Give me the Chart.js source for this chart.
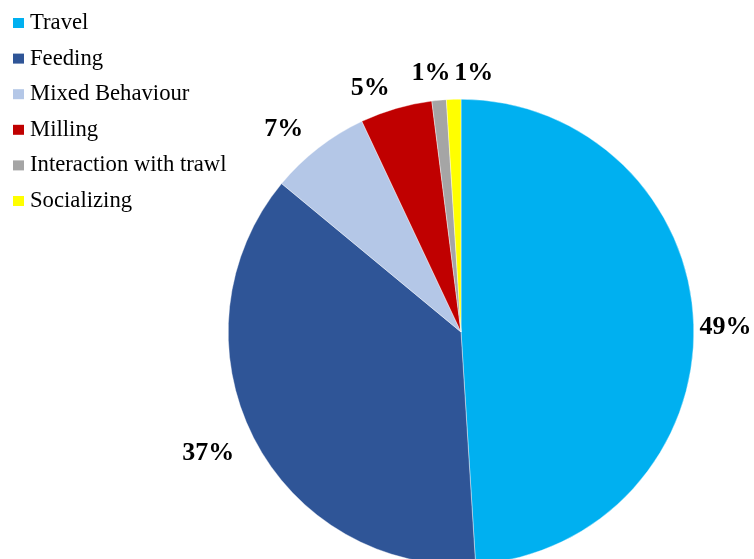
<!DOCTYPE html>
<html>
<head>
<meta charset="utf-8">
<script src="https://cdn.jsdelivr.net/npm/chart.js@4/dist/chart.umd.min.js"></script>
<style>
  html, body { margin: 0; padding: 0; background: #ffffff; overflow: hidden; }
  #wrap { position: absolute; left: 0; top: 0; width: 754px; height: 600px; }
</style>
</head>
<body>
<div id="wrap"><canvas id="pie" width="754" height="600"></canvas></div>
<script>
// Share of observed behaviour (%)
const categories = ['Travel', 'Feeding', 'Mixed Behaviour', 'Milling', 'Interaction with trawl', 'Socializing'];
const shares = [49, 37, 7, 5, 1, 1];
const percentLabels = ['49%', '37%', '7%', '5%', '1%', '1%'];

const sliceColors = ['#00B0F0', '#2F5597', '#B4C7E7', '#C00000', '#A5A5A5', '#FFFF00'];
// small nudges so the outside labels do not collide
const labelNudge = [[0, 4], [-17, 1], [-15, 6], [-17, 10], [-5, 5], [21, 6]];

const serif = '"Liberation Serif", "Times New Roman", serif';

const outsideLabels = {
  id: 'outsideLabels',
  afterDatasetsDraw(chart) {
    const ctx = chart.ctx;
    const meta = chart.getDatasetMeta(0);
    ctx.save();
    ctx.font = 'bold 26px ' + serif;
    ctx.fillStyle = '#000000';
    ctx.textAlign = 'center';
    ctx.textBaseline = 'middle';
    meta.data.forEach((arc, i) => {
      const mid = (arc.startAngle + arc.endAngle) / 2;
      const d = arc.outerRadius * 1.137;
      const x = arc.x + Math.cos(mid) * d + labelNudge[i][0];
      const y = arc.y + Math.sin(mid) * d + labelNudge[i][1];
      ctx.fillText(percentLabels[i], x, y);
    });
    ctx.restore();
  }
};

const sideLegend = {
  id: 'sideLegend',
  afterDraw(chart) {
    const ctx = chart.ctx;
    ctx.save();
    ctx.font = '22.7px ' + serif;
    ctx.textBaseline = 'alphabetic';
    ctx.textAlign = 'left';
    categories.forEach((name, i) => {
      const base = 29 + i * 35.6;
      ctx.fillStyle = sliceColors[i];
      ctx.fillRect(13, base - 11, 11, 10);
      ctx.fillStyle = '#000000';
      ctx.fillText(name, 30, base);
    });
    ctx.restore();
  }
};

new Chart(document.getElementById('pie'), {
  type: 'pie',
  data: {
    labels: categories,
    datasets: [{
      data: shares,
      backgroundColor: sliceColors,
      borderColor: '#ffffff',
      borderWidth: 0.4
    }]
  },
  options: {
    responsive: false,
    animation: false,
    layout: { padding: { left: 228, right: 60, top: 99, bottom: 35 } },
    plugins: {
      legend: { display: false },
      tooltip: { enabled: false }
    }
  },
  plugins: [outsideLabels, sideLegend]
});
</script>
</body>
</html>
